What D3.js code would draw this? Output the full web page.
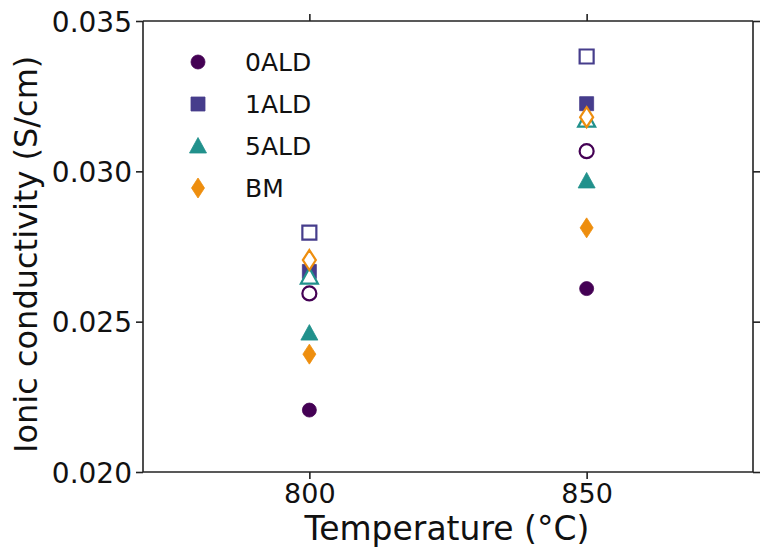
<!DOCTYPE html>
<html><head><meta charset="utf-8">
<script src="https://cdn.jsdelivr.net/npm/d3@7"></script>
<style>body{margin:0;background:#fff;} svg{display:block;} text{font-family:"DejaVu Sans",sans-serif;fill:#111;}</style>
</head><body><svg id="c" width="762" height="550"></svg>
<script>
const temperatures = [800, 850];
const seriesNames = ["0ALD", "1ALD", "5ALD", "BM"];
const seriesColors = ["#440154", "#463d8c", "#21918c", "#ee8e0e"];
const seriesShapes = ["circle", "square", "triangle", "diamond"];
// filled markers (first set)
const filled0ALD = [0.02206, 0.02610];
const filled1ALD = [0.02667, 0.03225];
const filled5ALD = [0.02462, 0.02968];
const filledBM   = [0.02392, 0.02812];
// open markers (second set)
const open0ALD = [0.02594, 0.03067];
const open1ALD = [0.02796, 0.03382];
const open5ALD = [0.02650, 0.03172];
const openBM   = [0.02705, 0.03180];
const yTicks = [0.020, 0.025, 0.030, 0.035];
const xTicks = [800, 850];
const xDomain = [770, 880];
const yDomain = [0.020, 0.035];

const svg = d3.select("#c");
const L = 143, R = 753, T = 21, B = 472;
const x = d3.scaleLinear().domain(xDomain).range([L, R]);
const y = d3.scaleLinear().domain(yDomain).range([B, T]);

function shapePath(kind) {
  const p = d3.path();
  if (kind === "circle") { p.arc(0, 0, 7, 0, 2 * Math.PI); }
  else if (kind === "square") { p.rect(-7, -7, 14, 14); }
  else if (kind === "triangle") { p.moveTo(0, -8.5); p.lineTo(8.5, 7); p.lineTo(-8.5, 7); p.closePath(); }
  else { p.moveTo(0, -10); p.lineTo(6.5, 0); p.lineTo(0, 10); p.lineTo(-6.5, 0); p.closePath(); }
  return p.toString();
}

const filledSets = [filled0ALD, filled1ALD, filled5ALD, filledBM];
const openSets = [open0ALD, open1ALD, open5ALD, openBM];

// axes (spines + outward ticks, mirrored)
const gAx = svg.append("g");
const tickFmt = d3.format(".3f");
const axL = d3.axisLeft(y).tickValues(yTicks).tickFormat(tickFmt).tickSize(7).tickPadding(4);
const axR = d3.axisRight(y).tickValues(yTicks).tickFormat("").tickSize(7);
const axB = d3.axisBottom(x).tickValues(xTicks).tickFormat(d3.format("d")).tickSize(7).tickPadding(5);
const axT = d3.axisTop(x).tickValues(xTicks).tickFormat("").tickSize(7);
const gL = gAx.append("g").attr("transform", `translate(${L},0)`).call(axL);
const gR = gAx.append("g").attr("transform", `translate(${R},0)`).call(axR);
const gB = gAx.append("g").attr("transform", `translate(0,${B})`).call(axB);
const gT = gAx.append("g").attr("transform", `translate(0,${T})`).call(axT);
[gL, gR, gB, gT].forEach(g => {
  g.select(".domain").attr("stroke", "#222").attr("stroke-width", 1.6);
  g.selectAll(".tick line").attr("stroke", "#222").attr("stroke-width", 1.6);
  g.selectAll(".tick text").attr("font-family", "DejaVu Sans").attr("fill", "#111");
});
gL.selectAll(".tick text").attr("font-size", 28).attr("dy", "0.36em");
gB.selectAll(".tick text").attr("font-size", 27);
gL.select(".domain").attr("d", `M0,${B}V${T}`);
gR.select(".domain").attr("d", `M0,${B}V${T}`);
gB.select(".domain").attr("d", `M${L},0H${R}`);
gT.select(".domain").attr("d", `M${L},0H${R}`);

// markers: filled first, then open
const gM = svg.append("g");
filledSets.forEach((vals, i) => {
  gM.selectAll(null).data(vals).enter().append("path")
    .attr("d", shapePath(seriesShapes[i]))
    .attr("transform", (d, j) => `translate(${x(temperatures[j])},${y(d)})`)
    .attr("fill", seriesColors[i]).attr("stroke", seriesColors[i]).attr("stroke-width", 0.8);
});
openSets.forEach((vals, i) => {
  gM.selectAll(null).data(vals).enter().append("path")
    .attr("d", shapePath(seriesShapes[i]))
    .attr("transform", (d, j) => `translate(${x(temperatures[j])},${y(d)})`)
    .attr("fill", "#fff").attr("stroke", seriesColors[i]).attr("stroke-width", 2.2);
});

// legend
const gLeg = svg.append("g");
seriesNames.forEach((name, i) => {
  const ly = 62 + i * 42;
  gLeg.append("path").attr("d", shapePath(seriesShapes[i]))
    .attr("transform", `translate(198,${ly})`)
    .attr("fill", seriesColors[i]).attr("stroke", seriesColors[i]).attr("stroke-width", 0.8);
  gLeg.append("text").attr("x", 245).attr("y", ly).attr("dy", "0.36em")
    .attr("font-size", 25).text(name);
});

// axis titles
svg.append("text").attr("x", 447).attr("y", 540).attr("text-anchor", "middle")
  .attr("font-size", 33).text("Temperature (°C)");
svg.append("text").attr("transform", `translate(37,453) rotate(-90)`)
  .attr("text-anchor", "start").attr("font-size", 32).text("Ionic conductivity (S/cm)");
</script></body></html>
